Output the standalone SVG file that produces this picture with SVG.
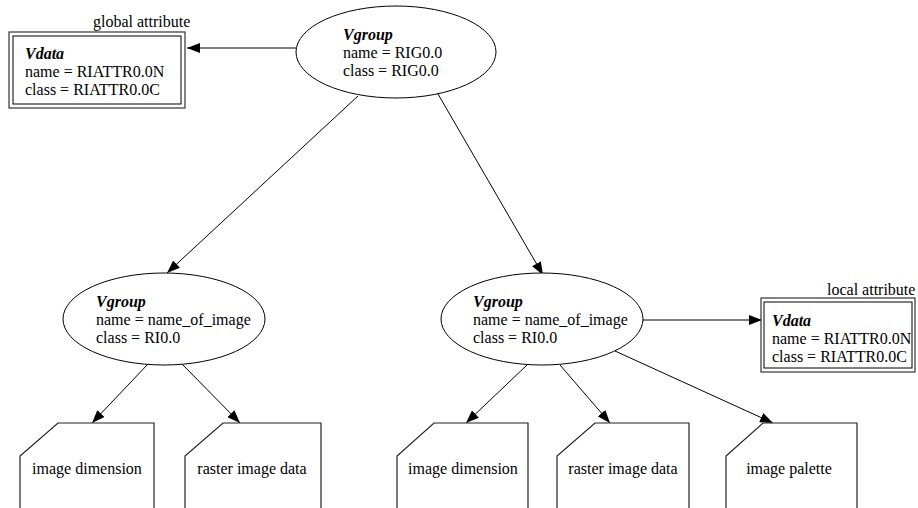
<svg xmlns="http://www.w3.org/2000/svg" width="918" height="508" viewBox="0 0 918 508">
<style>
text{font-family:"Liberation Serif","Times New Roman",serif;font-size:16px;fill:#000}
.t{font-weight:bold;font-style:italic}
.sh{fill:#fff;stroke:#000;stroke-width:1}
.ob{fill:#fff;stroke:#333;stroke-width:1.2}
.ib{fill:none;stroke:#000;stroke-width:1}
.c{fill:none;stroke:#000;stroke-width:1;marker-end:url(#ah)}
.doc{fill:#fff;stroke:#222;stroke-width:1.2}
</style>
<defs>
<marker id="ah" markerUnits="userSpaceOnUse" markerWidth="13" markerHeight="10" refX="13" refY="5" orient="auto">
<path d="M0,0 L13,5 L0,10 z" fill="#000"/>
</marker>
</defs>
<rect width="918" height="508" fill="#fff"/>
<g id="connectors">
<line class="c" x1="296" y1="48" x2="187" y2="48"/>
<line class="c" x1="358" y1="96" x2="167" y2="273"/>
<line class="c" x1="438" y1="94" x2="543" y2="275"/>
<line class="c" x1="643" y1="320" x2="762" y2="320"/>
<line class="c" x1="148" y1="364" x2="92" y2="423"/>
<line class="c" x1="182" y1="364" x2="240" y2="423"/>
<line class="c" x1="527" y1="365" x2="466" y2="423"/>
<line class="c" x1="560" y1="365" x2="610" y2="423"/>
<line class="c" x1="615" y1="351" x2="773" y2="423"/>
</g>
<g id="vdata-global">
<text x="93" y="27">global attribute</text>
<rect class="ob" x="9" y="32" width="176" height="76"/>
<rect class="ib" x="13" y="36" width="168" height="68"/>
<text class="t" x="25" y="59">Vdata</text>
<text x="25" y="77">name = RIATTR0.0N</text>
<text x="25" y="95">class = RIATTR0.0C</text>
</g>
<g id="vgroup-top">
<ellipse class="sh" cx="396" cy="52" rx="100" ry="46"/>
<text class="t" x="343" y="40">Vgroup</text>
<text x="343" y="58">name = RIG0.0</text>
<text x="343" y="76">class = RIG0.0</text>
</g>
<g id="vgroup-left">
<ellipse class="sh" cx="164" cy="319" rx="101" ry="46"/>
<text class="t" x="96" y="307">Vgroup</text>
<text x="96" y="325">name = name_of_image</text>
<text x="96" y="343">class = RI0.0</text>
</g>
<g id="vgroup-right">
<ellipse class="sh" cx="542" cy="319" rx="101" ry="46"/>
<text class="t" x="473" y="307">Vgroup</text>
<text x="473" y="325">name = name_of_image</text>
<text x="473" y="343">class = RI0.0</text>
</g>
<g id="vdata-local">
<text x="827" y="295">local attribute</text>
<rect class="ob" x="761" y="298" width="154" height="74"/>
<rect class="ib" x="764" y="302" width="148" height="66"/>
<text class="t" x="772" y="326">Vdata</text>
<text x="772" y="344">name = RIATTR0.0N</text>
<text x="772" y="362">class = RIATTR0.0C</text>
</g>
<g id="doc1">
<path class="doc" d="M20,512 L20,456 L58,423 L154,423 L154,512"/>
<text x="87" y="474" text-anchor="middle">image dimension</text>
</g>
<g id="doc2">
<path class="doc" d="M185,512 L185,456 L223,423 L321,423 L321,512"/>
<text x="252" y="474" text-anchor="middle">raster image data</text>
</g>
<g id="doc3">
<path class="doc" d="M397,512 L397,456 L434,423 L528,423 L528,512"/>
<text x="463" y="474" text-anchor="middle">image dimension</text>
</g>
<g id="doc4">
<path class="doc" d="M557,512 L557,456 L595,423 L689,423 L689,512"/>
<text x="623" y="474" text-anchor="middle">raster image data</text>
</g>
<g id="doc5">
<path class="doc" d="M726,512 L726,456 L763,423 L857,423 L857,512"/>
<text x="789" y="474" text-anchor="middle">image palette</text>
</g>
</svg>
